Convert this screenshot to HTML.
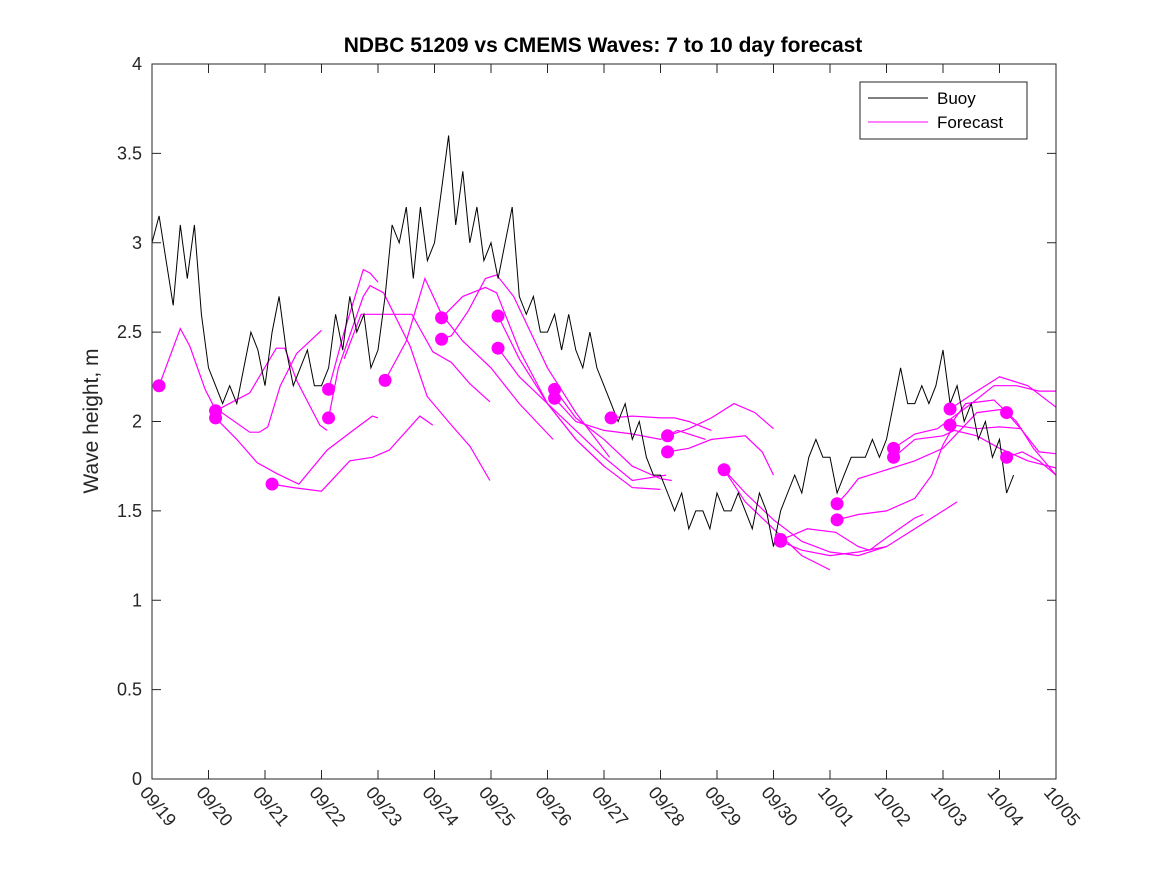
<!DOCTYPE html>
<html><head><meta charset="utf-8"><style>
body{margin:0;background:#fff;}
svg{display:block;font-family:"Liberation Sans","DejaVu Sans",sans-serif;}
</style></head><body>
<svg id="chart" width="1167" height="875" viewBox="0 0 1167 875" xmlns="http://www.w3.org/2000/svg">
<rect width="1167" height="875" fill="#fff"/>
<text x="603" y="52" text-anchor="middle" font-size="21" font-weight="bold">NDBC 51209 vs CMEMS Waves: 7 to 10 day forecast</text>
<text transform="translate(98,421) rotate(-90)" text-anchor="middle" font-size="21" fill="#262626">Wave height, m</text>
<g id="plot"></g>
<g id="axes"></g>
<g>
<rect x="860" y="82" width="167" height="57" fill="#fff" stroke="#262626" stroke-width="1"/>
<line x1="868" y1="98" x2="928" y2="98" stroke="#000" stroke-width="1"/>
<text x="937" y="104" font-size="17">Buoy</text>
<line x1="868" y1="122" x2="928" y2="122" stroke="#ff00ff" stroke-width="1"/>
<text x="937" y="128" font-size="17">Forecast</text>
</g>
</svg>
<script>
const xTickLabels = ["09/19","09/20","09/21","09/22","09/23","09/24","09/25","09/26","09/27","09/28","09/29","09/30","10/01","10/02","10/03","10/04","10/05"];
const yTickValues = [0,0.5,1,1.5,2,2.5,3,3.5,4];
const buoyStep = 0.125;
const buoyValues = [
3.0,3.15,2.9,2.65,3.1,2.8,3.1,2.6,
2.3,2.2,2.1,2.2,2.1,2.3,2.5,2.4,
2.2,2.5,2.7,2.4,2.2,2.3,2.4,2.2,
2.2,2.3,2.6,2.4,2.7,2.5,2.6,2.3,
2.4,2.7,3.1,3.0,3.2,2.8,3.2,2.9,
3.0,3.3,3.6,3.1,3.4,3.0,3.2,2.9,
3.0,2.8,3.0,3.2,2.7,2.6,2.7,2.5,
2.5,2.6,2.4,2.6,2.4,2.3,2.5,2.3,
2.2,2.1,2.0,2.1,1.9,2.0,1.8,1.7,
1.7,1.6,1.5,1.6,1.4,1.5,1.5,1.4,
1.6,1.5,1.5,1.6,1.5,1.4,1.6,1.5,
1.3,1.5,1.6,1.7,1.6,1.8,1.9,1.8,
1.8,1.6,1.7,1.8,1.8,1.8,1.9,1.8,
1.9,2.1,2.3,2.1,2.1,2.2,2.1,2.2,
2.4,2.1,2.2,2.0,2.1,1.9,2.0,1.8,
1.9,1.6,1.7];
const fcDays = [
[0.125,0.5,0.67,0.94,1.1,1.73,1.9,2.05,2.27,2.56,3.0],
[1.125,1.73,2.2,2.35,2.56,2.97,3.1],
[1.125,1.5,1.86,2.2,2.53,2.6,3.1,3.56,3.9,4.0],
[2.125,2.5,3.0,3.5,3.9,4.2,4.74,4.97],
[3.125,3.4,3.74,3.86,4.0],
[3.125,3.3,3.74,3.86,4.1,4.57,4.87,5.27,5.63,5.98],
[4.125,4.5,4.83,5.125,5.5,6.0,6.5,7.1],
[3.4,3.7,4.1,4.6,4.97,5.3,5.63,5.98],
[5.125,5.5,5.9,6.1,6.5,7.0,7.5,8.0],
[5.125,5.3,5.6,5.9,6.1,6.4,7.0,7.5,8.1],
[6.125,6.5,7.0,7.5,8.0,8.5,9.0],
[6.125,6.5,7.0,7.5,8.0,8.5,9.1],
[7.125,7.5,8.0,8.5,9.0,9.2],
[7.125,7.5,8.0,8.5,9.0,9.3,9.8],
[8.125,8.5,9.0,9.25,9.5,9.9],
[9.125,9.5,9.9,10.3,10.67,11.0],
[9.125,9.5,9.9,10.5,10.8,11.0],
[10.125,10.5,11.0,11.5,12.0,12.5,13.0],
[10.125,10.5,11.0,11.5,12.0],
[11.125,11.3,11.6,12.1,12.5,12.7,13.0,13.5,13.65],
[11.125,11.5,12.0,12.5,13.0,13.5,14.0,14.25],
[12.125,12.3,12.5,13.0,13.5,14.0,14.3,14.6,15.1],
[12.125,12.5,13.0,13.5,13.8,14.0,14.2,14.6,15.0,15.4],
[13.125,13.5,13.9,14.5,14.9,15.3,15.7,16.0],
[13.125,13.5,14.0,14.2,14.6,15.0,15.5,16.0],
[14.125,14.5,15.0,15.5,16.0],
[14.125,14.4,14.9,15.3,15.6,16.0],
[15.125,15.4,15.7,16.0],
[15.125,15.4,15.7,16.0]
];
const fcValues = [
[2.2,2.52,2.42,2.18,2.08,1.94,1.94,1.97,2.2,2.38,2.51],
[2.06,2.16,2.41,2.41,2.23,1.98,1.95],
[2.02,1.9,1.77,1.71,1.66,1.65,1.84,1.95,2.03,2.02],
[1.65,1.63,1.61,1.78,1.8,1.84,2.03,1.98],
[2.18,2.5,2.85,2.83,2.78],
[2.02,2.3,2.7,2.76,2.72,2.42,2.14,1.99,1.86,1.67],
[2.23,2.45,2.8,2.6,2.45,2.3,2.1,1.9],
[2.35,2.6,2.6,2.6,2.39,2.33,2.21,2.11],
[2.58,2.7,2.75,2.72,2.4,2.1,1.9,1.75],
[2.46,2.48,2.62,2.8,2.82,2.7,2.3,2.05,1.8],
[2.59,2.35,2.1,1.9,1.75,1.63,1.62],
[2.41,2.25,2.1,1.95,1.8,1.67,1.7],
[2.18,2.02,1.9,1.75,1.68,1.67],
[2.13,2.0,1.95,1.93,1.9,1.95,1.9],
[2.02,2.03,2.02,2.02,2.0,1.95],
[1.92,1.96,2.02,2.1,2.05,1.96],
[1.83,1.85,1.9,1.92,1.83,1.7],
[1.73,1.6,1.45,1.33,1.27,1.25,1.3],
[1.73,1.55,1.4,1.25,1.17],
[1.34,1.36,1.4,1.38,1.3,1.28,1.35,1.46,1.48],
[1.33,1.28,1.25,1.27,1.3,1.4,1.5,1.55],
[1.54,1.6,1.68,1.73,1.78,1.85,1.95,2.05,2.07],
[1.45,1.48,1.5,1.57,1.7,1.87,1.98,1.96,1.97,1.96],
[1.85,1.93,1.96,2.1,2.2,2.2,2.17,2.17],
[1.8,1.9,1.92,1.95,1.92,1.85,1.78,1.74],
[2.07,2.15,2.25,2.2,2.08],
[1.98,2.1,2.12,2.0,1.85,1.7],
[2.05,1.95,1.83,1.82],
[1.8,1.83,1.78,1.7]
];
const dotDays = [0.125,1.125,1.125,2.125,3.125,3.125,4.125,5.125,5.125,6.125,6.125,7.125,7.125,8.125,9.125,9.125,10.125,11.125,11.125,12.125,12.125,13.125,13.125,14.125,14.125,15.125,15.125];
const dotValues = [2.2,2.06,2.02,1.65,2.18,2.02,2.23,2.58,2.46,2.59,2.41,2.18,2.13,2.02,1.92,1.83,1.73,1.34,1.33,1.54,1.45,1.85,1.8,2.07,1.98,2.05,1.8];

const L=152,R=1056,T=64,B=779;
const xS=d=>L+(R-L)*d/16;
const yS=v=>B-(B-T)*v/4;
const NS="http://www.w3.org/2000/svg";
const plot=document.getElementById('plot'), axes=document.getElementById('axes');
function mk(tag,attrs,parent){const e=document.createElementNS(NS,tag);for(const k in attrs)e.setAttribute(k,attrs[k]);parent.appendChild(e);return e;}

fcDays.forEach((ds,i)=>{
  const pts=ds.map((d,j)=>xS(d).toFixed(1)+','+yS(fcValues[i][j]).toFixed(1)).join(' ');
  const p=mk('polyline',{points:pts,fill:'none',stroke:'#ff00ff','stroke-width':1.2},plot);
  
  
});
const bp=buoyValues.map((v,i)=>xS(i*buoyStep).toFixed(1)+','+yS(v).toFixed(1)).join(' ');
const bl=mk('polyline',{points:bp,fill:'none',stroke:'#000','stroke-width':1},plot);


dotDays.forEach((d,i)=>{
  const c=mk('circle',{cx:xS(d),cy:yS(dotValues[i]),r:6.5,fill:'#ff00ff'},plot);
  
  
});
const fr=mk('rect',{x:L,y:T,width:R-L,height:B-T,fill:'none',stroke:'#262626','stroke-width':1},axes);


yTickValues.forEach(v=>{
  const y=yS(v);
  mk('line',{x1:L,y1:y,x2:L+9,y2:y,stroke:'#262626'},axes);
  mk('line',{x1:R,y1:y,x2:R-9,y2:y,stroke:'#262626'},axes);
  const t=mk('text',{x:L-10,y:y+6,'text-anchor':'end','font-size':18,fill:'#262626'},axes);
  t.textContent=String(v);
  
  
});
xTickLabels.forEach((lab,i)=>{
  const x=xS(i);
  mk('line',{x1:x,y1:B,x2:x,y2:B-9,stroke:'#262626'},axes);
  mk('line',{x1:x,y1:T,x2:x,y2:T+9,stroke:'#262626'},axes);
  const t=mk('text',{transform:`translate(${x-13},${793}) rotate(50)`,'font-size':18,fill:'#262626'},axes);
  t.textContent=lab;
  
  
});
</script>
</body></html>
